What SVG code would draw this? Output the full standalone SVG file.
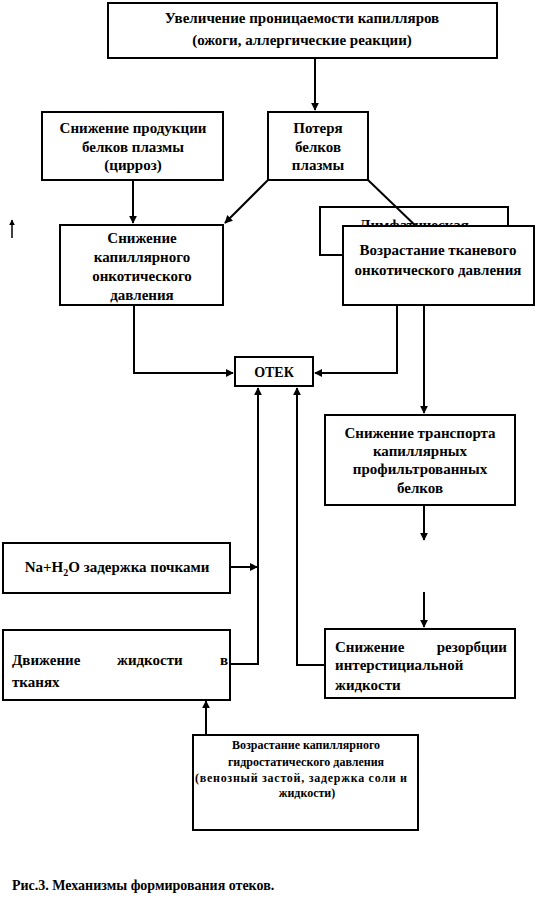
<svg xmlns="http://www.w3.org/2000/svg" width="537" height="910" viewBox="0 0 537 910">
<style>
.box{fill:#fff;stroke:#000;stroke-width:2}
.t{font-family:'Liberation Serif','DejaVu Serif',serif;font-weight:bold;font-size:15px;fill:#000}
.c{text-anchor:middle}
.s{font-size:12px}
.ln{fill:none;stroke:#000;stroke-width:2}
</style>
<defs>
<marker id="ah" viewBox="0 0 10 10" refX="9" refY="5" markerWidth="4" markerHeight="4" orient="auto" markerUnits="strokeWidth">
<path d="M0,0 L10,5 L0,10 z" fill="#000"/>
</marker>
</defs>
<rect width="537" height="910" fill="#fff"/>

<g id="n-top">
<rect class="box" x="108" y="3" width="389" height="55"/>
<text class="t c" x="302" y="23">Увеличение проницаемости капилляров</text>
<text class="t c" x="302" y="45">(ожоги, аллергические реакции)</text>
</g>
<g id="n-prod">
<rect class="box" x="42" y="112" width="181" height="68"/>
<text class="t c" x="133" y="133">Снижение продукции</text>
<text class="t c" x="133" y="152">белков плазмы</text>
<text class="t c" x="133" y="170">(цирроз)</text>
</g>
<g id="n-loss">
<rect class="box" x="268" y="112" width="100" height="68"/>
<text class="t c" x="318" y="133">Потеря</text>
<text class="t c" x="318" y="152">белков</text>
<text class="t c" x="318" y="170">плазмы</text>
</g>
<g id="n-capil">
<rect class="box" x="60" y="225" width="163" height="80"/>
<text class="t c" x="142" y="243">Снижение</text>
<text class="t c" x="142" y="262">капиллярного</text>
<text class="t c" x="142" y="281">онкотического</text>
<text class="t c" x="142" y="300">давления</text>
</g>
<g id="n-lymph">
<rect class="box" x="320" y="207" width="188" height="48"/>
<text class="t c" x="414" y="230">Лимфатическая</text>
</g>

<g id="connectors">
<line class="ln" x1="315" y1="58" x2="315" y2="110" marker-end="url(#ah)"/>
<line class="ln" x1="133" y1="180" x2="133" y2="223" marker-end="url(#ah)"/>
<line class="ln" x1="268" y1="180" x2="225" y2="223" marker-end="url(#ah)"/>
<line class="ln" x1="368" y1="180" x2="420" y2="230"/>
<path class="ln" d="M134,305 V373 H233" marker-end="url(#ah)"/>
<path class="ln" d="M397,305 V373 H315" marker-end="url(#ah)"/>
<line class="ln" x1="424" y1="305" x2="424" y2="413" marker-end="url(#ah)"/>
<line class="ln" x1="424" y1="505" x2="424" y2="540" marker-end="url(#ah)"/>
<line class="ln" x1="424" y1="592" x2="424" y2="627" marker-end="url(#ah)"/>
<path class="ln" d="M325,665 H297 V388" marker-end="url(#ah)"/>
<line class="ln" x1="230" y1="567" x2="257" y2="567" marker-end="url(#ah)"/>
<path class="ln" d="M230,664 H258 V388" marker-end="url(#ah)"/>
<line class="ln" x1="206" y1="735" x2="206" y2="701" marker-end="url(#ah)"/>
<line class="ln" x1="12" y1="238" x2="12" y2="220" style="stroke-width:1.5" marker-end="url(#ah)"/>
</g>

<g id="n-tissue">
<rect class="box" x="343" y="226" width="191" height="79"/>
<text class="t c" x="438" y="255">Возрастание тканевого</text>
<text class="t c" x="438" y="275">онкотического давления</text>
</g>
<g id="n-otek">
<rect class="box" x="235" y="357" width="78" height="29"/>
<text class="t c" x="274" y="377" style="font-size:14px">ОТЕК</text>
</g>
<g id="n-transport">
<rect class="box" x="325" y="415" width="190" height="90"/>
<text class="t c" x="420" y="438">Снижение транспорта</text>
<text class="t c" x="420" y="456">капиллярных</text>
<text class="t c" x="420" y="474">профильтрованных</text>
<text class="t c" x="420" y="493">белков</text>
</g>
<g id="n-rezorb">
<rect class="box" x="325" y="629" width="190" height="69"/>
<text class="t" x="335" y="652">Снижение</text>
<text class="t" x="507" y="652" text-anchor="end">резорбции</text>
<text class="t" x="335" y="670">интерстициальной</text>
<text class="t" x="335" y="690">жидкости</text>
</g>
<g id="n-na">
<rect class="box" x="3" y="543" width="227" height="50"/>
<text class="t c" x="117" y="572">Na+H<tspan dy="4" style="font-size:10px">2</tspan><tspan dy="-4">O задержка почками</tspan></text>
</g>
<g id="n-dvizh">
<rect class="box" x="3" y="630" width="227" height="70"/>
<text class="t" x="12" y="665">Движение</text>
<text class="t" x="117" y="665">жидкости</text>
<text class="t" x="228" y="665" text-anchor="end">в</text>
<text class="t" x="12" y="687">тканях</text>
</g>
<g id="n-hydro">
<rect class="box" x="193" y="735" width="225" height="95"/>
<text class="t s c" x="306" y="749">Возрастание капиллярного</text>
<text class="t s c" x="306" y="766">гидростатического давления</text>
<text class="t s" x="195" y="782" textLength="212" lengthAdjust="spacing">(венозный застой, задержка соли и</text>
<text class="t s c" x="307" y="797">жидкости)</text>
</g>

<text class="t" x="12" y="890" style="font-size:14px">Рис.3. Механизмы формирования отеков.</text>
</svg>
